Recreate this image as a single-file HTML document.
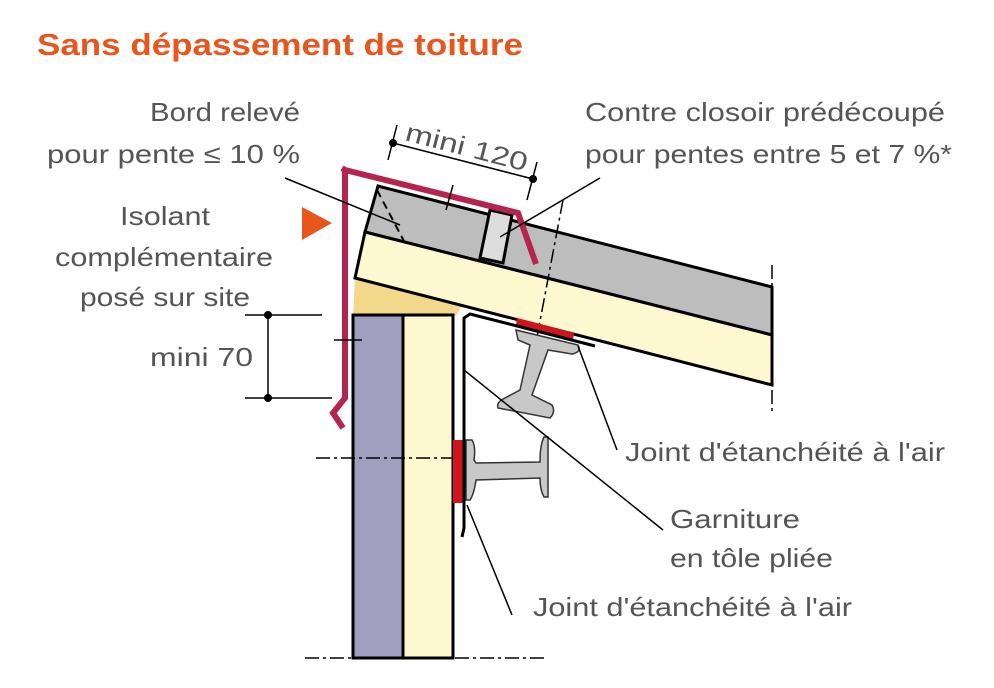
<!DOCTYPE html>
<html><head><meta charset="utf-8"><style>
body{margin:0;background:#fff;}
svg{display:block}
text{font-family:"Liberation Sans",sans-serif;fill:#555;font-size:26px}
</style></head><body>
<svg width="994" height="688" viewBox="0 0 994 688" xmlns="http://www.w3.org/2000/svg">
<text x="37" y="55" textLength="486" lengthAdjust="spacingAndGlyphs" style="fill:#e8561e;font-weight:bold;font-size:31px">Sans dépassement de toiture</text>
<polygon points="355,278 462,305 456,316 353,316" fill="#f2d88a"/>
<polygon points="378,186 772,287 772,335 365,232" fill="#bdbdbd" stroke="#000" stroke-width="3"/>
<polygon points="365,232 772,335 772,385 355,278" fill="#fdf8d0" stroke="#000" stroke-width="3"/>
<polygon points="490,210 512,215 503,263 480,258" fill="#dcdcdc" stroke="#000" stroke-width="3"/>
<rect x="353" y="315" width="50" height="343" fill="#a19fbf" stroke="#000" stroke-width="3"/>
<rect x="403" y="315" width="50" height="343" fill="#fdf8d0" stroke="#000" stroke-width="3"/>
<line x1="377" y1="190" x2="405" y2="243" stroke="#000" stroke-width="2" stroke-dasharray="8,5"/>
<line x1="563" y1="200" x2="525" y2="400" stroke="#000" stroke-width="1.5" stroke-dasharray="14,4,3,4"/>
<line x1="772" y1="265" x2="772" y2="412" stroke="#000" stroke-width="1.5" stroke-dasharray="14,4,3,4"/>
<line x1="316" y1="458" x2="462" y2="458" stroke="#000" stroke-width="1.5" stroke-dasharray="14,4,3,4"/>
<line x1="305" y1="658" x2="545" y2="658" stroke="#000" stroke-width="1.5" stroke-dasharray="14,4,3,4"/>
<path d="M516,330 L578,345 Q582,352 572,354 L548,350 L532,395 L552,405 Q556,412 550,418 L498,408 Q496,402 505,398 L520,390 L530,345 L518,340 Z" fill="#c8c8c8" stroke="#333" stroke-width="1.5"/>
<path d="M466,440 L472,440 Q476,446 474,460 L476,463 L540,462 Q540,445 544,437 L548,437 L548,497 L544,497 Q540,490 540,478 L476,480 Q474,494 470,500 L466,500 Z" fill="#c8c8c8" stroke="#333" stroke-width="1.5"/>
<polygon points="517,318 574,333 573,340 516,325" fill="#d0161c"/>
<rect x="453" y="440" width="10" height="63" fill="#d0161c"/>
<polyline points="462,537 464,528 464,318 470,314 595,346" fill="none" stroke="#000" stroke-width="3"/>
<polyline points="342,168 345,170 518,213 536,264" fill="none" stroke="#b5244f" stroke-width="6"/>
<polyline points="345,168 345,398 333,413 343,428" fill="none" stroke="#b5244f" stroke-width="6"/>
<polygon points="302,207 332,223 302,240" fill="#e8561e"/>
<line x1="393" y1="143" x2="533" y2="179" stroke="#000" stroke-width="1.5"/>
<circle cx="393" cy="143" r="4"/><circle cx="533" cy="179" r="4"/>
<line x1="397" y1="125" x2="388" y2="160" stroke="#000" stroke-width="1.5"/>
<line x1="537" y1="162" x2="527" y2="200" stroke="#000" stroke-width="1.5"/>
<line x1="453" y1="185" x2="446" y2="210" stroke="#000" stroke-width="1.5"/>
<text x="404" y="140" transform="rotate(14.5 404 140)" textLength="125" lengthAdjust="spacingAndGlyphs">mini 120</text>
<line x1="268" y1="315" x2="268" y2="398" stroke="#000" stroke-width="1.5"/>
<circle cx="268" cy="315" r="4"/><circle cx="268" cy="398" r="4"/>
<line x1="245" y1="315" x2="322" y2="315" stroke="#000" stroke-width="1.5"/>
<line x1="245" y1="398" x2="332" y2="398" stroke="#000" stroke-width="1.5"/>
<line x1="334" y1="340" x2="362" y2="340" stroke="#000" stroke-width="1.5"/>
<text x="150" y="366" textLength="103" lengthAdjust="spacingAndGlyphs">mini 70</text>
<line x1="285" y1="178" x2="400" y2="225" stroke="#000" stroke-width="1.5"/>
<line x1="600" y1="178" x2="500" y2="237" stroke="#000" stroke-width="1.5"/>
<line x1="578" y1="346" x2="617" y2="450" stroke="#000" stroke-width="1.5"/>
<line x1="464" y1="370" x2="663" y2="530" stroke="#000" stroke-width="1.5"/>
<line x1="467" y1="505" x2="512" y2="615" stroke="#000" stroke-width="1.5"/>
<text x="150" y="121" textLength="150" lengthAdjust="spacingAndGlyphs">Bord relevé</text>
<text x="47" y="163" textLength="253" lengthAdjust="spacingAndGlyphs">pour pente ≤ 10 %</text>
<text x="120" y="225" textLength="90" lengthAdjust="spacingAndGlyphs">Isolant</text>
<text x="55" y="266" textLength="218" lengthAdjust="spacingAndGlyphs">complémentaire</text>
<text x="80" y="306" textLength="170" lengthAdjust="spacingAndGlyphs">posé sur site</text>
<text x="585" y="121" textLength="360" lengthAdjust="spacingAndGlyphs">Contre closoir prédécoupé</text>
<text x="585" y="163" textLength="367" lengthAdjust="spacingAndGlyphs">pour pentes entre 5 et 7 %*</text>
<text x="625" y="461" textLength="320" lengthAdjust="spacingAndGlyphs">Joint d'étanchéité à l'air</text>
<text x="670" y="528" textLength="130" lengthAdjust="spacingAndGlyphs">Garniture</text>
<text x="670" y="567" textLength="163" lengthAdjust="spacingAndGlyphs">en tôle pliée</text>
<text x="533" y="616" textLength="319" lengthAdjust="spacingAndGlyphs">Joint d'étanchéité à l'air</text>
</svg>
</body></html>
